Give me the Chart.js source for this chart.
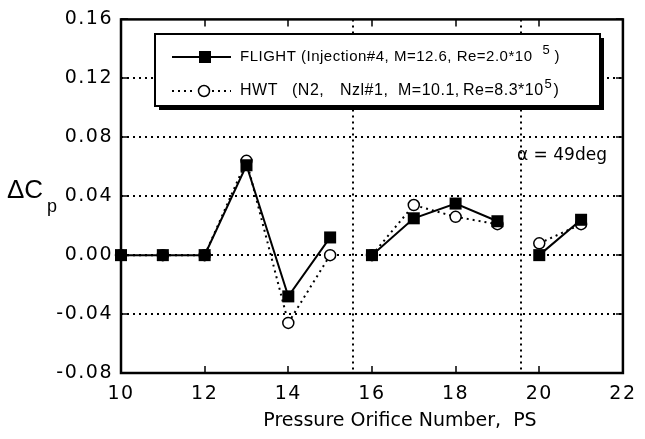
<!DOCTYPE html>
<html>
<head>
<meta charset="utf-8">
<script src="https://cdn.jsdelivr.net/npm/chart.js@4"></script>
<style>
  html, body { margin: 0; padding: 0; background: #fff; }
  #box { width: 645px; height: 439px; }
</style>
</head>
<body>
<div id="box"><canvas id="cp_chart"></canvas></div>
<script>
// data
var orifice = [10, 11, 12, 13, 14, 15, 16, 17, 18, 19, 20, 21];
var flight = [0.000, 0.000, 0.000, 0.061, -0.028, 0.012, 0.000, 0.025, 0.035, 0.023, 0.000, 0.024];
var hwt = [0.000, 0.000, 0.000, 0.064, -0.046, 0.000, 0.000, 0.034, 0.026, 0.021, 0.008, 0.021];
var breaks = [15.55, 19.57];     // dotted separators, lines are not joined across them
var xTicks = [10, 12, 14, 16, 18, 20, 22];
var yTicks = [-0.08, -0.04, 0.00, 0.04, 0.08, 0.12, 0.16];
var legendFlight = "FLIGHT (Injection#4, M=12.6, Re=2.0*10";
var legendHwt = ["HWT", "(N2,", "Nzl#1,", "M=10.1,", "Re=8.3*10"];

var FONT = "'DejaVu Sans', 'Liberation Sans', sans-serif";
var LFONT = "'Liberation Sans', Arial, sans-serif";

function toPoints(vals) {
    var pts = [];
    for (var i = 0; i < orifice.length; i++) {
        pts.push({ x: orifice[i], y: vals[i] });
        for (var b = 0; b < breaks.length; b++) {
            if (i + 1 < orifice.length && orifice[i] < breaks[b] && orifice[i + 1] > breaks[b]) {
                pts.push({ x: breaks[b], y: null });
            }
        }
    }
    return pts;
}

// frame, inward ticks, separators, legend box and labels
var decor = {
    id: 'decor',
    beforeDraw: function (chart) {
        chart.ctx.letterSpacing = '1.5px';   // tick labels in the scan are spaced out
    },
    beforeDatasetsDraw: function (chart) {
        var ctx = chart.ctx, a = chart.chartArea;
        var xs = chart.scales.x;
        ctx.letterSpacing = '0px';
        ctx.save();
        ctx.strokeStyle = '#000';
        ctx.lineWidth = 2;
        ctx.setLineDash([2, 4]);
        breaks.forEach(function (b) {
            var px = Math.round(xs.getPixelForValue(b));
            ctx.beginPath();
            ctx.moveTo(px, a.top);
            ctx.lineTo(px, a.bottom);
            ctx.stroke();
        });
        ctx.restore();
    },
    afterDraw: function (chart) {
        var ctx = chart.ctx, a = chart.chartArea;
        var xs = chart.scales.x, ys = chart.scales.y;
        ctx.save();
        ctx.letterSpacing = '0px';
        ctx.strokeStyle = '#000';
        ctx.setLineDash([]);
        // inward ticks
        ctx.lineWidth = 1.5;
        xTicks.forEach(function (t) {
            var px = Math.round(xs.getPixelForValue(t));
            if (t == xs.min || t == xs.max) return;
            ctx.beginPath();
            ctx.moveTo(px, a.bottom); ctx.lineTo(px, a.bottom - 7);
            ctx.moveTo(px, a.top); ctx.lineTo(px, a.top + 7);
            ctx.stroke();
        });
        yTicks.forEach(function (t) {
            var py = Math.round(ys.getPixelForValue(t));
            ctx.beginPath();
            ctx.moveTo(a.left, py); ctx.lineTo(a.left + 7, py);
            ctx.moveTo(a.right, py); ctx.lineTo(a.right - 7, py);
            ctx.stroke();
        });
        // frame
        ctx.lineWidth = 2.5;
        ctx.strokeRect(a.left, a.top, a.right - a.left, a.bottom - a.top);

        // legend box with shadow
        var bx = 155, by = 34, bw = 445, bh = 72;
        ctx.fillStyle = '#000';
        ctx.fillRect(bx + 4, by + 4, bw, bh);
        ctx.fillStyle = '#fff';
        ctx.fillRect(bx, by, bw, bh);
        ctx.lineWidth = 2;
        ctx.strokeRect(bx, by, bw, bh);

        var y1 = 57, y2 = 91;
        ctx.lineWidth = 2;
        ctx.beginPath(); ctx.moveTo(172, y1); ctx.lineTo(231, y1); ctx.stroke();
        ctx.fillStyle = '#000';
        ctx.fillRect(199, y1 - 6, 12, 12);
        ctx.setLineDash([2, 4]);
        ctx.beginPath(); ctx.moveTo(172, y2); ctx.lineTo(196, y2); ctx.moveTo(212, y2); ctx.lineTo(231, y2); ctx.stroke();
        ctx.setLineDash([]);
        ctx.lineWidth = 1.5;
        ctx.fillStyle = '#fff';
        ctx.beginPath(); ctx.arc(204, y2, 5.5, 0, Math.PI * 2); ctx.fill(); ctx.stroke();

        ctx.fillStyle = '#000';
        ctx.textBaseline = 'middle';
        ctx.textAlign = 'left';
        ctx.font = '15px ' + LFONT;
        ctx.letterSpacing = '0.5px';
        ctx.fillText(legendFlight, 240, y1);
        var w = ctx.measureText(legendFlight).width;
        ctx.fillText(')', 240 + w + 22, y1);
        ctx.font = '16px ' + LFONT;
        ctx.fillText(legendHwt[0], 240, y2);
        ctx.fillText(legendHwt[1], 292, y2);
        ctx.fillText(legendHwt[2], 340, y2);
        ctx.fillText(legendHwt[3], 398, y2);
        ctx.fillText(legendHwt[4], 463, y2);
        var w2 = ctx.measureText(legendHwt[4]).width;
        ctx.fillText(')', 463 + w2 + 10, y2);
        ctx.letterSpacing = '0px';
        ctx.font = '13px ' + LFONT;
        ctx.fillText('5', 240 + w + 10, y1 - 7);
        ctx.fillText('5', 463 + w2 + 1, y2 - 7);

        // angle note
        ctx.font = '17px ' + FONT;
        ctx.fillText('\u03b1 = 49deg', 517, 156);

        // y axis title
        ctx.font = '26px ' + LFONT;
        ctx.fillText('\u0394C', 7, 191);
        ctx.font = '18px ' + LFONT;
        ctx.fillText('p', 47, 207);

        // x axis title
        ctx.font = '19px ' + FONT;
        ctx.textAlign = 'center';
        ctx.fillText('Pressure Orifice Number,  PS', 400, 421);
        ctx.restore();
    }
};

var config = {
    type: 'line',
    data: {
        datasets: [{
            label: 'HWT',
            data: toPoints(hwt),
            borderColor: '#000',
            borderWidth: 2,
            borderDash: [2, 4],
            pointStyle: 'circle',
            pointRadius: 5.5,
            pointBorderWidth: 1.5,
            pointBackgroundColor: '#fff',
            pointBorderColor: '#000',
            spanGaps: false,
            clip: false,
            order: 2
        }, {
            label: 'FLIGHT',
            data: toPoints(flight),
            borderColor: '#000',
            borderWidth: 2,
            pointStyle: 'rect',
            pointRadius: 8.5,
            pointBorderWidth: 0,
            pointBackgroundColor: '#000',
            pointBorderColor: '#000',
            spanGaps: false,
            clip: false,
            order: 1
        }]
    },
    options: {
        responsive: true,
        maintainAspectRatio: false,
        animation: false,
        layout: { padding: { top: 18, right: 14, left: 0, bottom: 0 } },
        plugins: { legend: { display: false }, tooltip: { enabled: false } },
        elements: { line: { tension: 0 } },
        scales: {
            x: {
                type: 'linear',
                min: 10, max: 22,
                afterBuildTicks: function (s) { s.ticks = xTicks.map(function (v) { return { value: v }; }); },
                afterFit: function (s) { s.height = 66; },
                grid: { display: false, drawTicks: false },
                border: { display: false },
                ticks: { color: '#000', padding: 10, font: { family: FONT, size: 19 } }
            },
            y: {
                min: -0.08, max: 0.16,
                afterBuildTicks: function (s) { s.ticks = yTicks.map(function (v) { return { value: v }; }); },
                afterFit: function (s) { s.width = 121; },
                grid: {
                    color: function (c) { return (c.tick && (c.tick.value <= -0.079 || c.tick.value >= 0.159)) ? 'rgba(0,0,0,0)' : '#000'; },
                    lineWidth: 2,
                    drawTicks: false
                },
                border: { display: false, dash: [2, 4] },
                ticks: {
                    color: '#000', padding: 8,
                    font: { family: FONT, size: 19 },
                    callback: function (v) { return v.toFixed(2); }
                }
            }
        }
    },
    plugins: [decor]
};

window.myChart = new Chart(document.getElementById('cp_chart'), config);
</script>
</body>
</html>
